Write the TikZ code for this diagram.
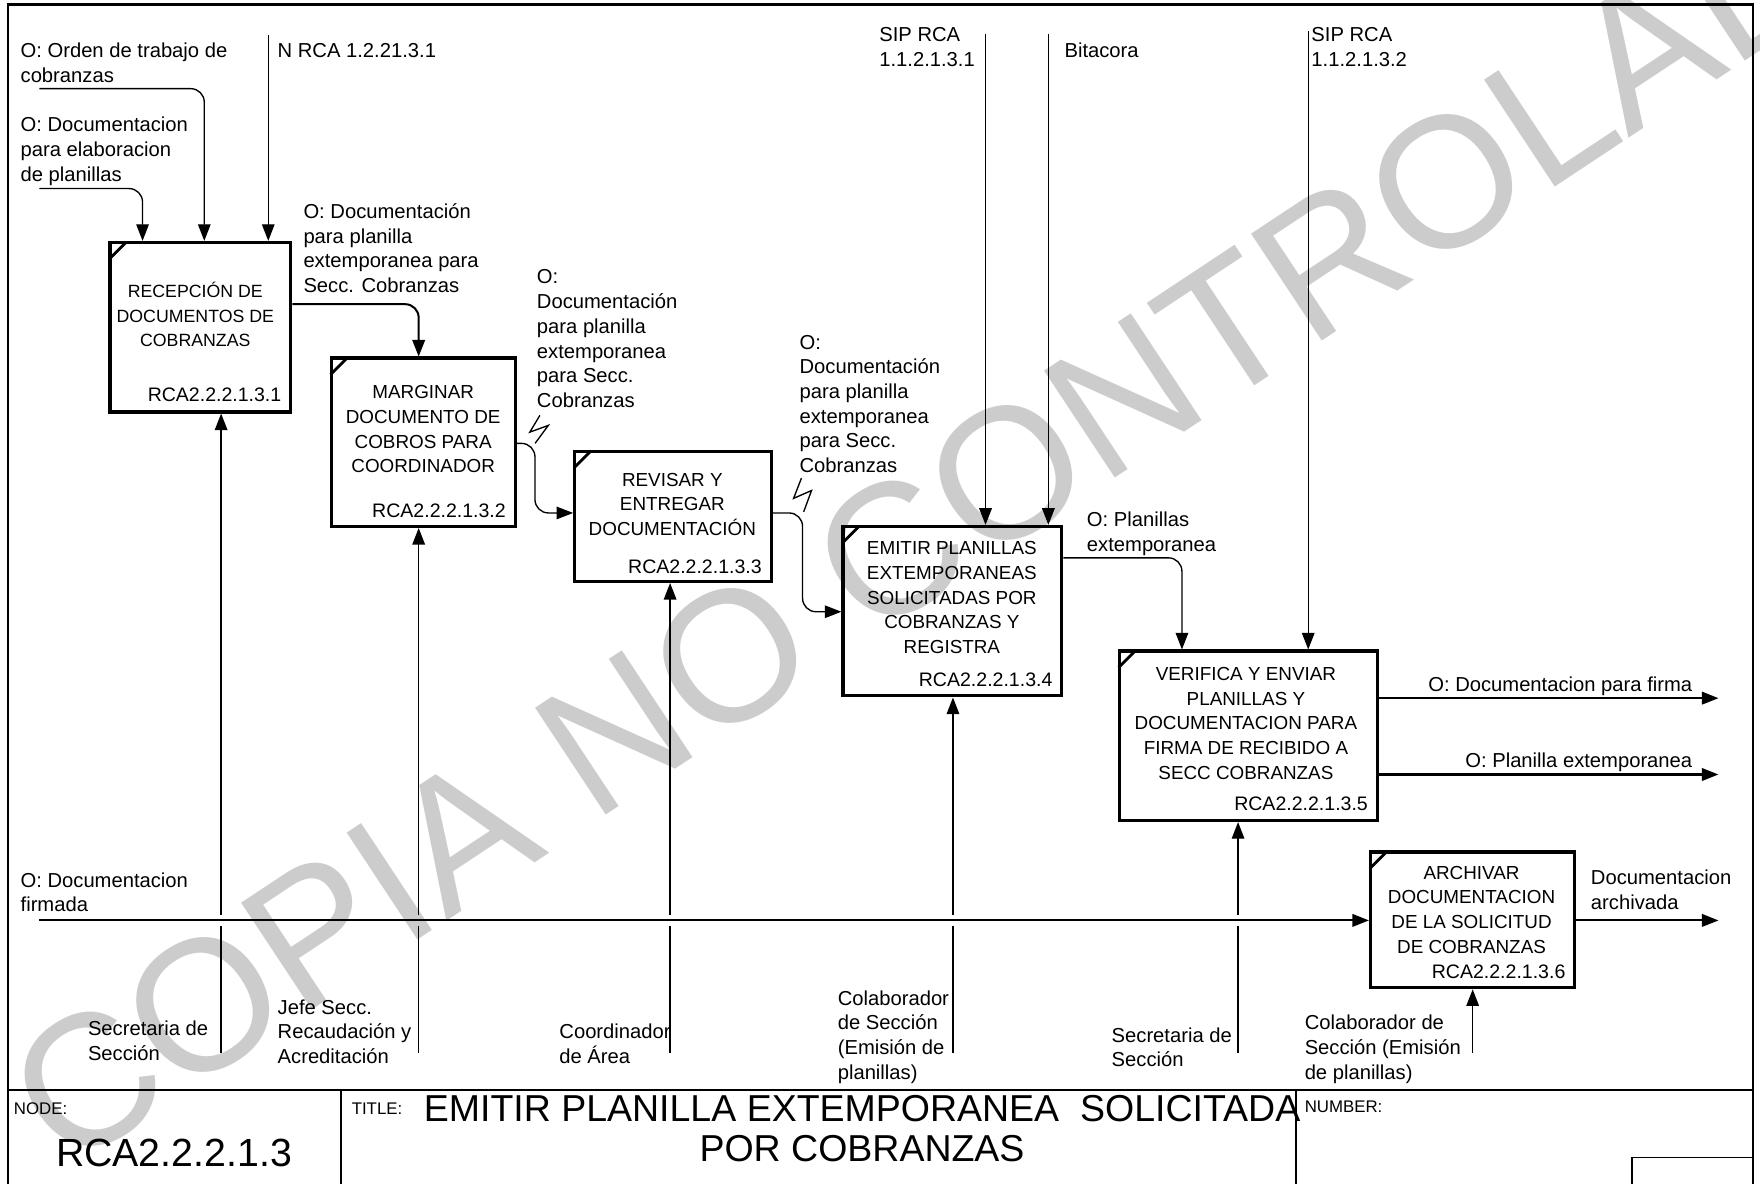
\documentclass[tikz,border=0pt]{standalone}
\usepackage{fontspec}
\setmainfont{Liberation Sans}
\usetikzlibrary{arrows.meta,calc,fit}
\newcommand{\lblfont}{\fontsize{9}{11}\selectfont}
\newcommand{\boxfont}{\fontsize{8.4}{11}\selectfont}
\begin{document}
\begin{tikzpicture}[x=0.5pt,y=-0.5pt,
  frame/.style={line width=1pt},
  pbox/.style={draw, line width=1.4pt, inner sep=0pt},
  tick/.style={line width=1.3pt},
  conn/.style={line width=0.6pt, -{Triangle[length=7.4pt,width=5.6pt]}},
  heavy/.style={line width=0.9pt, -{Triangle[length=7.4pt,width=5.6pt]}},
  plain/.style={line width=0.6pt},
  rc/.style={rounded corners=6},
  lbl/.style={font=\lblfont, align=left, inner sep=0pt, anchor=north west},
  btx/.style={font=\boxfont, align=center, inner sep=0pt, anchor=north},
  rid/.style={font=\fontsize{8.7}{11}\selectfont, inner sep=0pt, anchor=east},
  tiny/.style={font=\fontsize{7.5}{9}\selectfont, inner sep=0pt, anchor=north west},
  wmark/.style={text=black!20, font=\fontsize{83}{83}\selectfont, rotate=33.5, inner sep=0pt}
]
\useasboundingbox (0,0) rectangle (1568,1054);

% watermark in the background
\node[wmark] (wm) at (866,442) {COPIA NO CONTROLADA};

% outer frame and title block
\draw[frame] (7.4,1060) -- (7.4,4) -- (1562,4) -- (1562,1060);
\draw[frame] (7.4,971) -- (1562,971);
\draw[frame] (304,971) -- (304,1060);
\draw[frame] (1154.5,971) -- (1154.5,1060);
\draw[plain] (1454,1060) -- (1454,1031) -- (1562,1031);

\node[tiny] (nodelbl) at (12,982) {NODE:};
\node[font=\fontsize{17.5}{20}\selectfont, inner sep=0pt] (nodeid) at (155,1027) {RCA2.2.2.1.3};
\node[tiny] (titlelbl) at (313,982) {TITLE:};
\node[font=\fontsize{16.7}{18}\selectfont, align=center, inner sep=0pt, anchor=north] (title)
  at (768,975) {EMITIR PLANILLA EXTEMPORANEA\ \ SOLICITADA\\POR COBRANZAS};
\node[tiny] (numlbl) at (1162,980) {NUMBER:};

% activity boxes
\node[pbox, fit={(98,216) (259,367)}] (b1) {};
\node[pbox, fit={(295,319) (459,469)}] (b2) {};
\node[pbox, fit={(512,402) (687,518)}] (b3) {};
\node[pbox, fit={(751,469) (946,620)}] (b4) {};
\node[pbox, fit={(997,580) (1227,731)}] (b5) {};
\node[pbox, fit={(1221,759) (1403,880)}] (b6) {};
\foreach \b in {b1,b2,b3,b4,b5,b6}
  \draw[tick] ($(\b.north west)+(1,16)$) -- ($(\b.north west)+(16,1)$);

% box texts
\node[btx, font=\fontsize{7.9}{11}\selectfont] (t1) at (174,251) {RECEPCIÓN DE\\DOCUMENTOS DE\\COBRANZAS};
\node[btx] (t2) at (377,343) {MARGINAR\\DOCUMENTO DE\\COBROS PARA\\COORDINADOR};
\node[btx] (t3) at (599,421) {REVISAR Y\\ENTREGAR\\DOCUMENTACIÓN};
\node[btx] (t4) at (848,482) {EMITIR PLANILLAS\\EXTEMPORANEAS\\SOLICITADAS POR\\COBRANZAS Y\\REGISTRA};
\node[btx] (t5) at (1110,594) {VERIFICA Y ENVIAR\\PLANILLAS Y\\DOCUMENTACION PARA\\FIRMA DE RECIBIDO A\\SECC COBRANZAS};
\node[btx] (t6) at (1311,771) {ARCHIVAR\\DOCUMENTACION\\DE LA SOLICITUD\\DE COBRANZAS};

\node[rid] (r1) at (251,352) {RCA2.2.2.1.3.1};
\node[rid] (r2) at (451,455) {RCA2.2.2.1.3.2};
\node[rid] (r3) at (679,505) {RCA2.2.2.1.3.3};
\node[rid] (r4) at (938,606) {RCA2.2.2.1.3.4};
\node[rid] (r5) at (1219,716) {RCA2.2.2.1.3.5};
\node[rid] (r6) at (1395,866) {RCA2.2.2.1.3.6};

% inputs to the first box
\coordinate (i1) at (35,79);   \coordinate (k1) at (182,79);
\coordinate (i2) at (35,168);  \coordinate (k2) at (127,168);
\coordinate (n1) at (239,31);
\draw[conn, rc] (i1) -- (k1) -- (k1 |- b1.north);
\draw[conn, rc] (i2) -- (k2) -- (k2 |- b1.north);
\draw[conn] (n1) -- (n1 |- b1.north);

% flows between boxes
\coordinate (o1) at (373,271);
\draw[heavy, rc] (b1.east |- o1) -- (o1) -- (o1 |- b2.north);
\coordinate (o2) at (476.6,395); \coordinate (o2b) at (476.6,457);
\draw[conn, rc] (b2.east |- o2) -- (o2) -- (o2b) -- (b3.west |- o2b);
\coordinate (o3) at (715,457); \coordinate (o3b) at (715,545);
\draw[conn, rc] (b3.east |- o3) -- (o3) -- (o3b) -- (b4.west |- o3b);
\coordinate (o4) at (1053,497);
\draw[conn, rc] (b4.east |- o4) -- (o4) -- (o4 |- b5.north);

% squiggles tying labels to their arrows
\draw[plain] (481,370) -- (472,385) -- (488.5,379) -- (476.7,395);
\draw[plain] (714,426) -- (707,444) -- (723,437) -- (716,456);

% controls from the top
\coordinate (s1) at (878,30);
\coordinate (s2) at (934,30);
\coordinate (s3) at (1165.5,28);
\draw[conn] (s1) -- (s1 |- b4.north);
\draw[conn] (s2) -- (s2 |- b4.north);
\draw[conn] (s3) -- (s3 |- b5.north);

% outputs on the right
\coordinate (e1) at (1531,622);
\coordinate (e2) at (1531,690);
\coordinate (e3) at (1531,820);
\draw[heavy] (b5.east |- e1) -- (e1);
\draw[heavy] (b5.east |- e2) -- (e2);
\draw[heavy] (b6.east |- e3) -- (e3);

% signed documentation entering the last box
\coordinate (f0) at (35,820);
\draw[heavy] (f0) -- (b6.west |- f0);

% mechanisms from the bottom, broken where they cross the long flow
\coordinate (gapLo) at (0,825);
\coordinate (gapHi) at (0,815);
\foreach \mx/\b in {197/b1, 373/b2, 597/b3, 849/b4, 1103/b5} {
  \coordinate (mb) at (\mx,938);
  \draw[plain] (mb) -- (mb |- gapLo);
  \draw[conn] (mb |- gapHi) -- (mb |- \b.south);
}
\coordinate (m6) at (1312,938);
\draw[conn] (m6) -- (m6 |- b6.south);

% arrow labels
\node[lbl] (l1) at (18,38) {O: Orden de trabajo de\\cobranzas};
\node[lbl] (l2) at (18,104) {O: Documentacion\\para elaboracion\\de planillas};
\node[lbl] (l3) at (247,38) {N RCA 1.2.21.3.1};
\node[lbl] (l4) at (270,181) {O: Documentación\\para planilla\\extemporanea para\\Secc. Cobranzas};
\node[lbl] (l5) at (478,240) {O:\\Documentación\\para planilla\\extemporanea\\para Secc.\\Cobranzas};
\node[lbl] (l6) at (712,298) {O:\\Documentación\\para planilla\\extemporanea\\para Secc.\\Cobranzas};
\node[lbl] (l7) at (783,24) {SIP RCA\\1.1.2.1.3.1};
\node[lbl] (l8) at (948,38) {Bitacora};
\node[lbl] (l9) at (1168,24) {SIP RCA\\1.1.2.1.3.2};
\node[lbl] (l10) at (968,456) {O: Planillas\\extemporanea};
\node[lbl, anchor=north east] (l11) at (1508,603) {O: Documentacion para firma};
\node[lbl, anchor=north east] (l12) at (1508,670) {O: Planilla extemporanea};
\node[lbl] (l13) at (1417,775) {Documentacion\\archivada};
\node[lbl] (l14) at (18,777) {O: Documentacion\\firmada};
\node[lbl] (l15) at (78,909) {Secretaria de\\Sección};
\node[lbl] (l16) at (247,890) {Jefe Secc.\\Recaudación y\\Acreditación};
\node[lbl] (l17) at (498,912) {Coordinador\\de Área};
\node[lbl] (l18) at (746,882) {Colaborador\\de Sección\\(Emisión de\\planillas)};
\node[lbl] (l19) at (990,915) {Secretaria de\\Sección};
\node[lbl] (l20) at (1162,904) {Colaborador de\\Sección (Emisión\\de planillas)};
\end{tikzpicture}
\end{document}
